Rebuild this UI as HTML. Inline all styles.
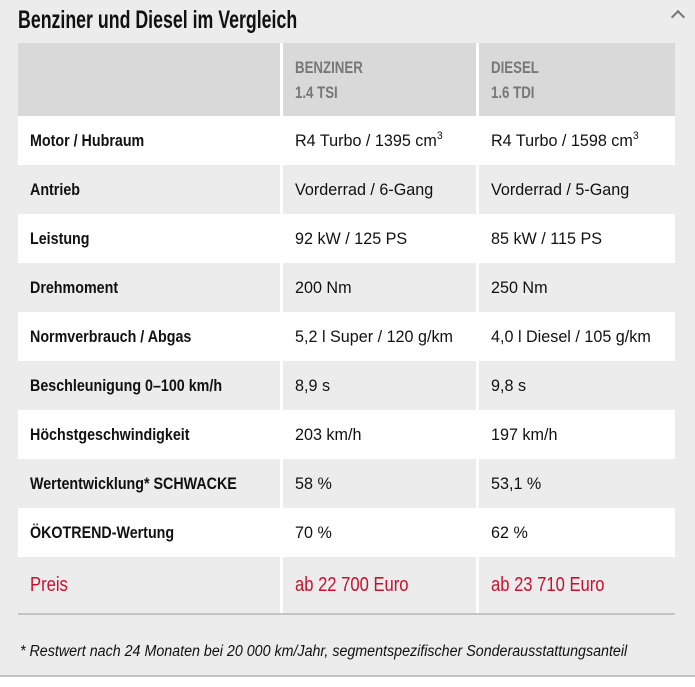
<!DOCTYPE html><html><head><style>
body{margin:0;width:695px;height:687px;background:#fff;overflow:hidden;font-family:"Liberation Sans",sans-serif;}
#w{position:absolute;left:0;top:0;width:695px;height:677px;background:#ececec;border-bottom:2px solid #c4c4c4;box-sizing:border-box}
h1{position:absolute;left:18px;top:6px;margin:0;font-size:25px;font-weight:bold;color:#111;transform:scaleX(0.71);transform-origin:left;white-space:nowrap}
.c{position:absolute;box-sizing:border-box;font-size:17px;color:#111;display:flex;align-items:center;white-space:nowrap}
.c>span{display:inline-block;transform-origin:left;transform:scaleX(0.95)}
.b{font-weight:bold;font-size:17px}
.b>span{transform:scaleX(0.84)}
.r{color:#c8102e;font-size:20px}
.r>span{transform:scaleX(0.83)}
.hd>span{transform:scaleX(0.78)}
sup{font-size:11px;vertical-align:7px;line-height:0}
</style></head><body><div id="w">
<h1>Benziner und Diesel im Vergleich</h1>
<div style="position:absolute;left:673px;top:12px;width:8px;height:8px;border-left:2px solid #777;border-top:2px solid #777;transform:rotate(45deg)"></div>
<div id="t"></div>
<div style="position:absolute;left:18px;top:613px;width:657px;height:2px;background:#c4c4c4"></div>
<div style="position:absolute;left:20px;top:643px;font-size:15.5px;font-style:italic;color:#111;white-space:nowrap;transform:scaleX(0.92);transform-origin:left">* Restwert nach 24 Monaten bei 20 000 km/Jahr, segmentspezifischer Sonderausstattungsanteil</div>
</div>
<script>
var rows=[["Motor / Hubraum","R4 Turbo / 1395 cm<sup>3</sup>","R4 Turbo / 1598 cm<sup>3</sup>"],["Antrieb","Vorderrad / 6-Gang","Vorderrad / 5-Gang"],["Leistung","92 kW / 125 PS","85 kW / 115 PS"],["Drehmoment","200 Nm","250 Nm"],["Normverbrauch / Abgas","5,2 l Super / 120 g/km","4,0 l Diesel / 105 g/km"],["Beschleunigung 0–100 km/h","8,9 s","9,8 s"],["Höchstgeschwindigkeit","203 km/h","197 km/h"],["Wertentwicklung* SCHWACKE","58 %","53,1 %"],["ÖKOTREND-Wertung","70 %","62 %"]];
var X=[[18,262],[283,193],[479,196]],h="";
function cell(x,y,w,hh,bg,cls,txt,pad){h+='<div class="c '+cls+'" style="left:'+x+'px;top:'+y+'px;width:'+w+'px;height:'+hh+'px;background:'+bg+';padding-left:'+pad+'px"><span>'+txt+'</span></div>';}
h+='<div style="position:absolute;left:18px;top:43px;width:657px;height:73px;background:#fff"></div>';
cell(18,43,262,73,"#d9d9d9","","",12);
cell(283,43,193,73,"#d9d9d9","b hd",'<span style="color:#777;line-height:25px;display:block">BENZINER<br>1.4 TSI</span>',12);
cell(479,43,196,73,"#d9d9d9","b hd",'<span style="color:#777;line-height:25px;display:block">DIESEL<br>1.6 TDI</span>',12);
rows.forEach(function(r,i){var y=116+i*49,bg=i%2?"#ececec":"#fff";
h+='<div style="position:absolute;left:18px;top:'+y+'px;width:657px;height:49px;background:#fff"></div>';
for(var j=0;j<3;j++)cell(X[j][0],y,X[j][1],49,bg,j?"":"b",r[j],12);});
h+='<div style="position:absolute;left:18px;top:557px;width:657px;height:56px;background:#fff"></div>';
cell(18,557,262,56,"#ececec","r","Preis",12);cell(283,557,193,56,"#ececec","r","ab 22 700 Euro",12);cell(479,557,196,56,"#ececec","r","ab 23 710 Euro",12);
document.getElementById("t").innerHTML=h;
</script></body></html>
